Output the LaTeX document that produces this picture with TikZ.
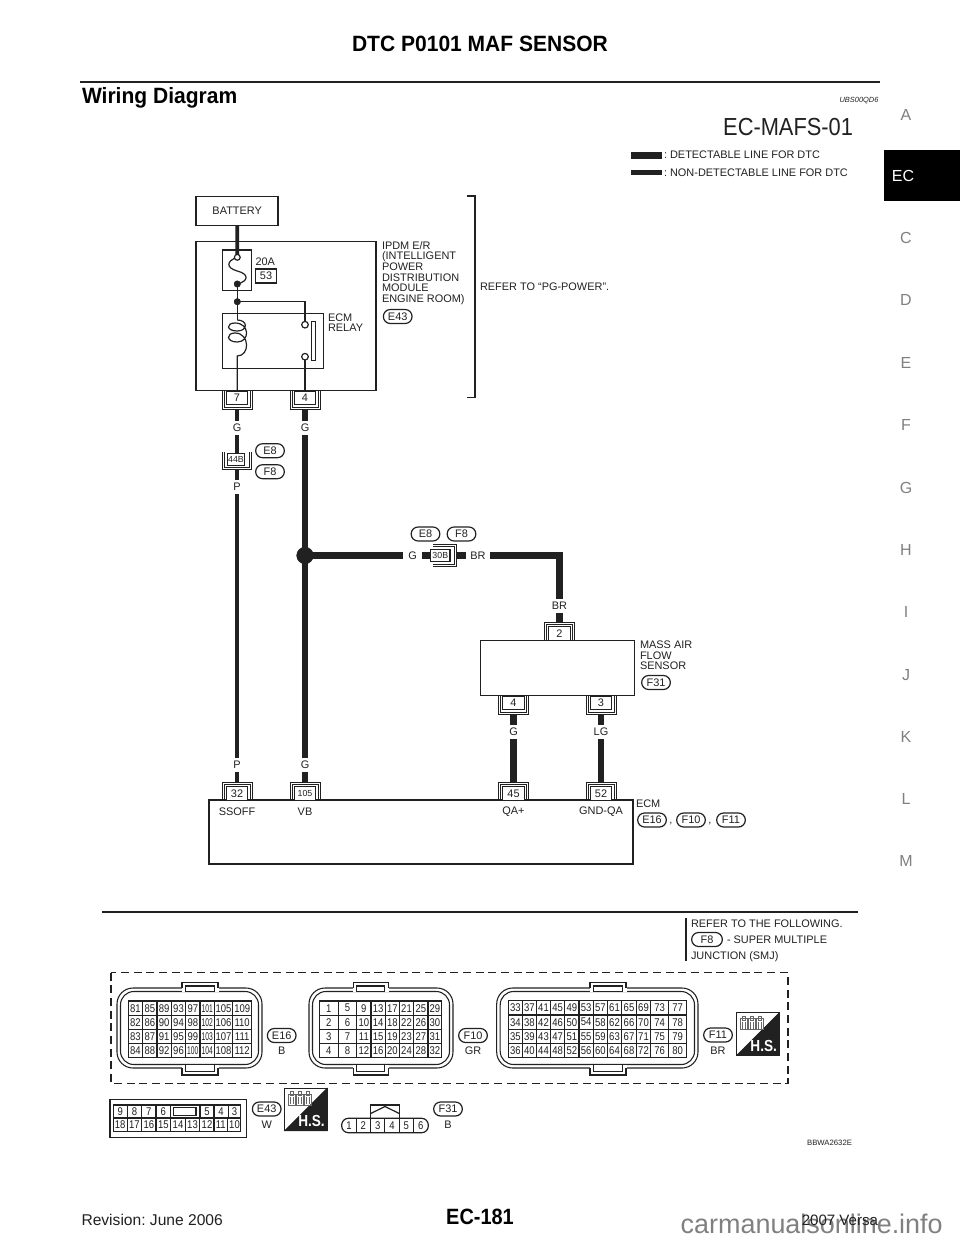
\documentclass[tikz,border=0pt]{standalone}
\usepackage{fontspec}
\setmainfont{Liberation Sans}
\frenchspacing
\definecolor{ink}{gray}{0.13}
\newcommand{\fs}[1]{\fontsize{#1}{#1}\selectfont}
\tikzset{
 x=0.75pt,y=-0.75pt,
 every node/.style={inner sep=0pt,outer sep=0pt,text=ink},
 every path/.style={draw=ink},
 lbl/.style={font=\fs{8.2}},
 lbll/.style={lbl,anchor=west},
 wlbl/.style={lbl,minimum height=10.5pt,minimum width=10pt},
 wlblh/.style={lbl,minimum height=8pt,minimum width=15pt},
 box/.style={draw=ink,line width=1.1pt},
 wirethin/.style={draw=ink,line width=3pt},
 wirethick/.style={draw=ink,line width=5.2pt},
 pill/.style={draw=ink,line width=0.9pt,rounded corners=5.2pt,minimum width=21.5pt,minimum height=10.5pt,font=\fs{8.2}},
 cell/.style={draw=ink,line width=0.9pt,fill=white,minimum width=16pt,minimum height=10pt,font=\fs{8.2}},
 shell/.style={draw=ink,line width=0.75pt},
 pin/.style={font=\fs{8.4},xscale=0.85},
 pinraw/.style={font=\fs{8.4}},
 gridl/.style={draw=ink,line width=0.8pt},
 tab/.style={font=\fs{12},text=black!50},
}
\newcommand{\shelldown}[4]{%
 \node[cell] (#1) at (#2,#3+6.7) {#4};
 \draw[shell] (#2-15,#3) -- (#2-15,#3+18) -- (#2+15,#3+18) -- (#2+15,#3);
 \draw[shell] (#2-13,#3) -- (#2-13,#3+16) -- (#2+13,#3+16) -- (#2+13,#3);
 \coordinate (#1-end) at (#2,#3+18);
}
\newcommand{\shellup}[3]{%
 \draw[shell] (#2-15,#3) -- (#2-15,#3-18) -- (#2+15,#3-18) -- (#2+15,#3);
 \draw[shell] (#2-13,#3) -- (#2-13,#3-16) -- (#2+13,#3-16) -- (#2+13,#3);
 \coordinate (#1-end) at (#2,#3-18);
}
\newcommand{\hsicon}[3]{%
 \coordinate (#1) at (#2,#3);
 \fill[white] (#2,#3) rectangle ++(42.5,42.5);
 \fill[ink] (#2+42.5,#3) -- (#2+42.5,#3+42.5) -- (#2,#3+42.5) -- cycle;
 \draw[line width=0.6pt] (#2,#3) rectangle ++(42.5,42.5);
 \foreach \dx in {4,12,20}{\draw[line width=0.5pt,draw=black!60] (#2+\dx,#3+6) rectangle ++(7,11);\draw[line width=0.5pt,draw=black!60] (#2+\dx+2,#3+3.5) rectangle ++(3,4);\draw[line width=0.5pt,draw=black!60] (#2+\dx+2,#3+9) -- ++(0,7);\draw[line width=0.5pt,draw=black!60] (#2+\dx+4.5,#3+9) -- ++(0,7);}
 \node[font=\fs{12}\bfseries,text=white,xscale=0.85] (#1-t) at (#2+27,#3+33) {H.S.};
}
\newcommand{\housing}[4]{% x1 x2 tab1 tab2
 \draw[line width=0.8pt,rounded corners=12pt] (#1,988) rectangle (#2,1068);
 \draw[line width=0.8pt,rounded corners=10pt] (#1+3.5,991.5) rectangle (#2-3.5,1064.5);
 \fill[white] (#3,982.5) rectangle (#4,991);
 \fill[white] (#3,1065) rectangle (#4,1075);
 \draw[line width=0.8pt] (#3,988) -- (#3,982.5) -- (#4,982.5) -- (#4,988);
 \draw[line width=0.8pt] (#3+3.5,986) rectangle (#4-3.5,991.5);
 \draw[line width=0.8pt] (#3,1068) -- (#3,1075) -- (#4,1075) -- (#4,1068);
 \draw[line width=0.8pt] (#3+3.5,1064.5) rectangle (#4-3.5,1071.5);
}
\begin{document}
\begin{tikzpicture}
\useasboundingbox[fill=white,draw=none] (0,0) rectangle (960,1242);
%% header
\node[font=\fs{16.6}\bfseries,text=black,xscale=0.95] (title) at (480,43.5) {DTC P0101 MAF SENSOR};
\draw[line width=2pt] (80,82) -- (880,82);
\node[font=\fs{16.6}\bfseries,anchor=west,text=black,xscale=0.95] (wd) at (82,98) {Wiring Diagram};
\node[font=\fs{5.6}\itshape,anchor=east] (ubs) at (878.5,100.5) {UBS00QD6};
\node[font=\fs{18.5},anchor=east,xscale=0.885] (mafs) at (853,127) {EC-MAFS-01};
\fill[ink] (631,152.5) rectangle (661,158.5);
\fill[ink] (631,170.5) rectangle (661,174);
\node[lbll] (leg1) at (664,155) {: DETECTABLE LINE FOR DTC};
\node[lbll] (leg2) at (664,172.5) {: NON-DETECTABLE LINE FOR DTC};
%% side tabs
\fill[black] (884,150) rectangle (960,200);
\node[font=\fs{12},text=white] (tabEC) at (903,176) {EC};
\foreach \t/\yy in {A/115,C/238,D/300,E/363,F/425,G/488,H/550,I/612,J/675,K/737,L/799,M/861}
  \node[tab] (tab\t) at (906,\yy) {\t};
%% battery and IPDM
\node[box,minimum width=61.5pt,minimum height=21.7pt,font=\fs{8.2}] (batt) at (237.2,211) {BATTERY};
\node[box,minimum width=135pt,minimum height=112pt] (ipdm) at (286,316) {};
\node[draw=ink,line width=0.9pt,minimum width=21.5pt,minimum height=30.5pt] (fuse) at (237,270.3) {};
\node[draw=ink,line width=0.9pt,minimum width=75.5pt,minimum height=41pt] (relay) at (273,341) {};
\coordinate (fa) at (237.3,257.3);
\coordinate (fb) at (237.3,284);
\coordinate (jn) at (237.3,301.7);
\coordinate (ca) at (305,324.7);
\coordinate (cb) at (305,356.7);
\draw[line width=2.8pt] (batt) -- (fa);
\draw[line width=0.9pt] (fa) .. controls (226,261) and (226,268) .. (237.3,271) .. controls (249,274) and (249,281) .. (fb);
\draw[line width=0.9pt] (fb) -- (jn) -- (237.3,320);
\draw[line width=0.9pt] (jn) -| (ca);
\draw[line width=0.9pt] (cb) -- (305,390.7);
%% coil
\draw[line width=0.9pt] (237.3,320) .. controls (248,320) and (248,331) .. (237.3,331) .. controls (226,331) and (226,323) .. (235,323) .. controls (250,323) and (250,342) .. (237.3,342) .. controls (226,342) and (226,333) .. (235,333) .. controls (250,333) and (250,356) .. (237.3,356) -- (237.3,390.7);
\fill[white,draw=ink,line width=0.9pt] (fa) circle (2.9);
\fill[ink] (fb) circle (3.2);
\fill[ink] (jn) circle (3.2);
\fill[white,draw=ink,line width=0.9pt] (ca) circle (3.3);
\fill[white,draw=ink,line width=0.9pt] (cb) circle (3.3);
\draw[line width=0.8pt] (311.7,321.7) rectangle (315.7,360.7);
\node[lbl] (a20) at (265.3,261.5) {20A};
\node[draw=ink,line width=0.8pt,minimum width=16pt,minimum height=10.5pt,font=\fs{8.2}] (f53) at (266,276) {53};
\node[lbll,align=left] (ecmrel) at (328,322.5) {ECM\\[-0.5pt]RELAY};
\node[lbll,align=left] (ipdmt) at (382,273) {IPDM E/R\\[-0.2pt](INTELLIGENT\\[-0.2pt]POWER\\[-0.2pt]DISTRIBUTION\\[-0.2pt]MODULE\\[-0.2pt]ENGINE ROOM)};
\node[pill] (pe43) at (397.7,316.5) {E43};
\draw[line width=1.1pt] (466.7,196) -- (475,196) -- (475,397.3) -- (466.7,397.3);
\node[lbll] (refpg) at (480,287) {REFER TO “PG-POWER”.};
%% shells and pins
\shelldown{c7}{237}{391}{7}
\shelldown{c4}{305}{391}{4}
%% wire labels
\node[wlbl] (g1) at (237,428) {G};
\node[wlbl] (g2) at (305,428) {G};
\node[wlbl] (p1) at (237,487) {P};
\node[wlbl] (p2) at (237,765) {P};
\node[wlbl] (g3) at (305,765) {G};
\node[wlbl] (g4) at (513.5,732) {G};
\node[wlbl] (lg) at (601,732) {LG};
\node[wlbl] (br2) at (559.5,605.5) {BR};
\node[wlblh,minimum width=14pt] (g5) at (412.5,555.5) {G};
\node[wlblh,minimum width=18pt] (br1) at (478,555.5) {BR};
%% 44B
\node[draw=ink,line width=0.8pt,fill=white,minimum width=12.5pt,minimum height=9pt,font=\fs{6.6}] (c44) at (236,459.5) {44B};
\draw[shell] (222.5,452) -- (222.5,469.5) -- (251.5,469.5) -- (251.5,452);
\draw[shell] (224.8,452) -- (224.8,467.3) -- (249.2,467.3) -- (249.2,452);
\coordinate (c44-top) at (237,453.5);
\coordinate (c44-bot) at (237,469.5);
\node[pill] (pe8a) at (270,450.7) {E8};
\node[pill] (pf8a) at (270,471.7) {F8};
%% wires left
\draw[wirethin] (c7-end) -- (g1);
\draw[wirethin] (g1) -- (c44-top);
\draw[wirethin] (c44-bot) -- (p1);
\draw[wirethick] (c4-end) -- (g2);
%% bottom ECM
\node[box,minimum width=318pt,minimum height=48pt] (ecm) at (421,832) {};
\node[cell] (c32) at (237,793.5) {32};
\node[cell,font=\fs{6.6}] (c105) at (305,793.5) {105};
\node[cell] (c45) at (513.5,793.5) {45};
\node[cell] (c52) at (601,793.5) {52};
\shellup{s32}{237}{800}
\shellup{s105}{305}{800}
\shellup{s45}{513.5}{800}
\shellup{s52}{601}{800}
\node[lbl] (ss) at (237,811.5) {SSOFF};
\node[lbl] (vb) at (305,811.5) {VB};
\node[lbl] (qa) at (513.5,811.5) {QA+};
\node[lbl] (gq) at (601,811.5) {GND-QA};
\node[lbll] (ecml) at (636,803.5) {ECM};
\node[pill] (pe16) at (652,820) {E16};
\node[lbl] (cm1) at (671,824) {,};
\node[pill] (pf10) at (691,820) {F10};
\node[lbl] (cm2) at (710,824) {,};
\node[pill] (pf11) at (731,820) {F11};
\draw[wirethin] (p1) -- (p2);
\draw[wirethin] (p2) -- (s32-end);
\draw[wirethick] (g2) -- (g3);
\draw[wirethick] (g3) -- (s105-end);
%% junction and horizontal run
\coordinate (j2) at (305,555.5);
\fill[ink] (j2) circle (8.3);
\node[draw=ink,line width=0.8pt,fill=white,minimum width=14.5pt,minimum height=9.5pt,font=\fs{6.6}] (c30) at (440.3,555.5) {30B};
\draw[shell] (433,544.3) -- (456.6,544.3) -- (456.6,566.3) -- (433,566.3);
\draw[shell] (433,546.6) -- (454.3,546.6) -- (454.3,564) -- (433,564);
\coordinate (c30-r) at (456.6,555.5);
\coordinate (c30-l) at (430.7,555.5);
\node[pill] (pe8b) at (425.5,534) {E8};
\node[pill] (pf8b) at (461.5,534) {F8};
\coordinate (bend) at (559.5,555.5);
\draw[wirethick] (j2) -- (g5);
\draw[wirethick] (g5) -- (c30-l);
\draw[wirethick] (c30-r) -- (br1);
\draw[wirethick,line join=miter] (br1) -- (bend) -- (br2);
%% MAF sensor
\node[box,minimum width=115.5pt,minimum height=41pt] (maf) at (557.3,668) {};
\node[cell,minimum height=10.5pt] (c2) at (559.5,633.5) {2};
\shellup{s2}{559.5}{640.7}
\shelldown{c4s}{513.5}{696}{4}
\shelldown{c3s}{601}{696}{3}
\node[lbll,align=left] (mafl) at (640,655.5) {MASS AIR\\[-0.2pt]FLOW\\[-0.2pt]SENSOR};
\node[pill] (pf31t) at (656,682.5) {F31};
\draw[wirethick] (br2) -- (s2-end);
\draw[wirethick] (c4s-end) -- (g4);
\draw[wirethick] (g4) -- (s45-end);
\draw[wirethick] (c3s-end) -- (lg);
\draw[wirethick] (lg) -- (s52-end);
%% lower section
\draw[line width=1.1pt] (102,912) -- (858,912);
\draw[line width=1.1pt] (686,918) -- (686,961);
\node[lbll] (rf1) at (691,924) {REFER TO THE FOLLOWING.};
\node[pill,minimum width=23pt] (pf8c) at (707,939.5) {F8};
\node[lbll] (rf2) at (727,940) {- SUPER MULTIPLE};
\node[lbll] (rf3) at (691,957) {JUNCTION (SMJ)};
\draw[line width=1.1pt,dash pattern=on 6pt off 3.5pt] (111,972.5) rectangle (788,1083.5);
%% E16
\housing{117}{262}{182}{218}
\foreach \xa/\xb [count=\ci] in {128.3/142.7,142.7/157,157/171.3,171.3/185.7,185.7/200,200/214.3,214.3/232.7,232.7/251.7}{
 \foreach \ya/\yb [count=\ri] in {1001/1015.3,1015.3/1029.3,1029.3/1043.3,1043.3/1057.3}{
  \draw[gridl] (\xa,\ya) rectangle (\xb,\yb);
  \pgfmathtruncatemacro{\num}{81+(\ci-1)*4+\ri-1}
  \pgfmathsetmacro{\sc}{(\ci==6 || (\ci==5 && \ri==4))?0.6:0.85}
  \node[pinraw,xscale=\sc] (e16-\num) at ({(\xa+\xb)/2},{(\ya+\yb)/2}) {\num};
 }}
\node[pill] (le16) at (281.7,1035.5) {E16};
\node[lbl] (ce16) at (281.7,1050.7) {B};
%% F10
\housing{309}{453}{353.3}{388.3}
\foreach \xa/\xb [count=\ci] in {319.3/338.3,338.3/356.7,356.7/371,371/385.3,385.3/399.3,399.3/413.7,413.7/428,428/441.7}{
 \foreach \ya/\yb [count=\ri] in {1001/1015.3,1015.3/1029.3,1029.3/1043.3,1043.3/1057.3}{
  \draw[gridl] (\xa,\ya) rectangle (\xb,\yb);
  \pgfmathtruncatemacro{\num}{1+(\ci-1)*4+\ri-1}
  \node[pin] (f10-\num) at ({(\xa+\xb)/2},{(\ya+\yb)/2}) {\num};
 }}
\node[pill] (lf10) at (473,1035.5) {F10};
\node[lbl] (cf10) at (473,1050.7) {GR};
%% F11
\housing{496.7}{698}{590}{626}
\foreach \xa/\xb [count=\ci] in {508.3/522.3,522.3/536.3,536.3/550.7,550.7/564.7,564.7/579,579/593.3,593.3/607.3,607.3/621.7,621.7/636.3,636.3/650.7,650.7/668.7,668.7/686.7}{
 \foreach \ya/\yb [count=\ri] in {1000.7/1015,1015/1029.3,1029.3/1043.3,1043.3/1057.3}{
  \draw[gridl] (\xa,\ya) rectangle (\xb,\yb);
  \pgfmathtruncatemacro{\num}{33+(\ci-1)*4+\ri-1}
  \node[pin] (f11-\num) at ({(\xa+\xb)/2},{(\ya+\yb)/2}) {\num};
 }}
\node[pill] (lf11) at (718,1035) {F11};
\node[lbl] (cf11) at (718,1050.7) {BR};
\hsicon{hs1}{736.7}{1012.7}
%% E43 connector
\draw[line width=0.9pt] (110,1099.5) rectangle (246.7,1137.7);
\draw[line width=0.8pt] (113.2,1105) rectangle (240.7,1131.7);
\draw[gridl] (113.2,1118) -- (240.7,1118);
\foreach \xx in {127.3,141.7,156,170.7,185.3,199.7,214,227.3}{\draw[gridl] (\xx,1118) -- (\xx,1131.7);}
\foreach \xx in {127.3,141.7,156,170.7,200,214,228.3}{\draw[gridl] (\xx,1105) -- (\xx,1118);}
\draw[line width=0.9pt] (173.5,1107.5) rectangle (196,1115.5);
\foreach \t/\xx in {9/120.2,8/134.5,7/148.8,6/163.3,5/207,4/221,3/234.5}
  \node[pin] (e43a\t) at (\xx,1111.7) {\t};
\foreach \t/\xx in {18/120.2,17/134.5,16/148.8,15/163.3,14/178,13/192.5,12/207,11/220.7,10/234.5}
  \node[pin] (e43b\t) at (\xx,1125) {\t};
\node[pill] (le43) at (266.7,1109) {E43};
\node[lbl] (ce43) at (266.7,1125) {W};
\hsicon{hs2}{284.5}{1088.3}
%% F31 connector
\draw[line width=0.9pt] (370.7,1118.3) -- (370.7,1105) -- (399.3,1105) -- (399.3,1118.3);
\draw[line width=0.9pt] (370.7,1113.5) -- (385,1106.5) -- (399.3,1113.5);
\draw[line width=0.9pt,rounded corners=5pt] (341.7,1118.3) rectangle (428.3,1132.7);
\foreach \xx in {356.2,370.5,384.9,399.2,413.5}{\draw[gridl] (\xx,1118.3) -- (\xx,1132.7);}
\foreach \t/\xx in {1/349,2/363.3,3/377.7,4/392,5/406.3,6/420.7}
  \node[pin] (f31-\t) at (\xx,1125.5) {\t};
\node[pill] (lf31) at (448,1109) {F31};
\node[lbl] (cf31) at (448,1125) {B};
\node[font=\fs{5.8},anchor=east] (bb) at (852,1143) {BBWA2632E};
%% footer
\node[font=\fs{20.2},text=black!50,anchor=base west] (wm) at (680.7,1233) {carmanualsonline.info};
\node[font=\fs{16.6}\bfseries,text=black,xscale=0.9] (pg) at (480,1216.5) {EC-181};
\node[font=\fs{11.7},anchor=west] (rev) at (81.5,1220) {Revision: June 2006};
\node[font=\fs{11.3},anchor=east] (ver) at (878,1220) {2007 Versa};
\end{tikzpicture}
\end{document}
